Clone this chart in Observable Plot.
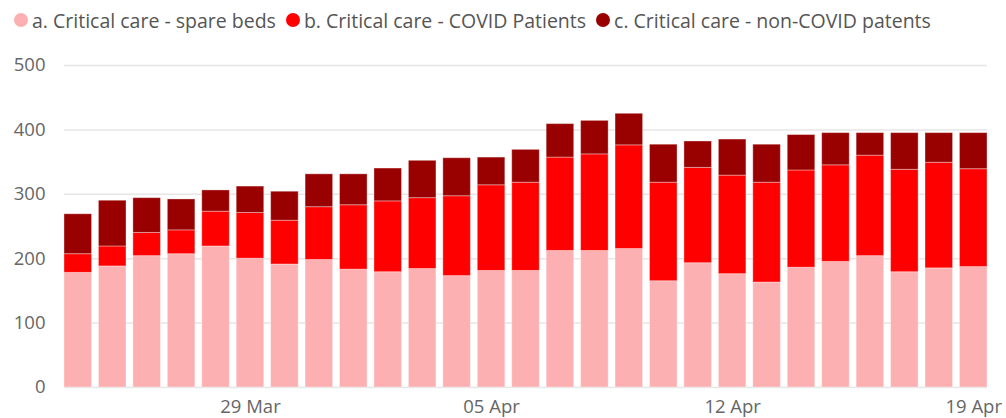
<!DOCTYPE html>
<html>
<head>
<meta charset="utf-8">
<script src="https://cdn.jsdelivr.net/npm/d3@7"></script>
<script src="https://cdn.jsdelivr.net/npm/@observablehq/plot@0.6"></script>
<style>
  html, body { margin: 0; padding: 0; background: #fff; }
  body { width: 1006px; height: 418px; overflow: hidden; font-family: "Open Sans", "Segoe UI", sans-serif; }
  #legend { height: 40px; display: flex; align-items: center; padding-left: 14px; font-size: 19.5px; color: #555; }
  .item { display: flex; align-items: center; margin-right: 10px; }
  .dot { width: 14px; height: 14px; border-radius: 50%; margin-right: 4px; }
</style>
</head>
<body>
<div id="legend"></div>
<div id="chart"></div>
<script>
const dates = ["2020-03-24","2020-03-25","2020-03-26","2020-03-27","2020-03-28","2020-03-29","2020-03-30",
  "2020-03-31","2020-04-01","2020-04-02","2020-04-03","2020-04-04","2020-04-05","2020-04-06","2020-04-07",
  "2020-04-08","2020-04-09","2020-04-10","2020-04-11","2020-04-12","2020-04-13","2020-04-14","2020-04-15",
  "2020-04-16","2020-04-17","2020-04-18","2020-04-19"];
const spareBeds   = [178,188,204,207,219,200,191,198,183,179,184,173,181,181,212,212,215,165,193,176,163,186,195,204,179,185,187];
const covidPatients = [29,31,36,37,54,71,68,82,100,110,110,124,133,137,145,150,161,153,148,153,155,151,150,156,159,164,152];
const nonCovidPatients = [62,71,54,48,33,41,45,51,48,51,58,59,43,51,52,52,49,59,41,56,59,55,50,35,57,46,56];
const seriesNames = ["a. Critical care - spare beds", "b. Critical care - COVID Patients", "c. Critical care - non-COVID patents"];
const seriesColors = ["#fdb0b2", "#ff0000", "#990000"];
const tickLabels = {"2020-03-29": "29 Mar", "2020-04-05": "05 Apr", "2020-04-12": "12 Apr", "2020-04-19": "19 Apr"};
const yTicks = [0, 100, 200, 300, 400, 500];

const seriesValues = [spareBeds, covidPatients, nonCovidPatients];
const rows = [];
seriesNames.forEach((s, si) => dates.forEach((d, i) => rows.push({date: d, series: s, value: seriesValues[si][i], order: si})));

const legend = document.getElementById("legend");
seriesNames.forEach((s, i) => {
  const it = document.createElement("div");
  it.className = "item";
  it.innerHTML = `<span class="dot" style="background:${seriesColors[i]}"></span><span>${s}</span>`;
  legend.appendChild(it);
});

const chart = Plot.plot({
  width: 1006,
  height: 378,
  marginTop: 25,
  marginBottom: 31,
  marginLeft: 64,
  marginRight: 19,
  style: {fontFamily: "'Open Sans', sans-serif", fontSize: "18.5px", color: "#666", background: "#fff", overflow: "visible"},
  x: {type: "band", domain: dates, paddingInner: 0.2, paddingOuter: 0, round: false, label: null, tickSize: 0, tickPadding: 12,
      tickFormat: d => tickLabels[d] ?? ""},
  y: {domain: [0, 500], ticks: yTicks, label: null, tickSize: 0, tickPadding: 19},
  color: {domain: seriesNames, range: seriesColors},
  marks: [
    Plot.gridY(yTicks, {stroke: "#e6e6e6", strokeOpacity: 1, strokeWidth: 1.5}),
    Plot.barY(rows, Plot.stackY({order: "order"}, {x: "date", y: "value", fill: "series", inset: 0,
      stroke: "#ffffff", strokeOpacity: 0.35, strokeWidth: 1})),
  ]
});
document.getElementById("chart").appendChild(chart);
</script>
</body>
</html>
